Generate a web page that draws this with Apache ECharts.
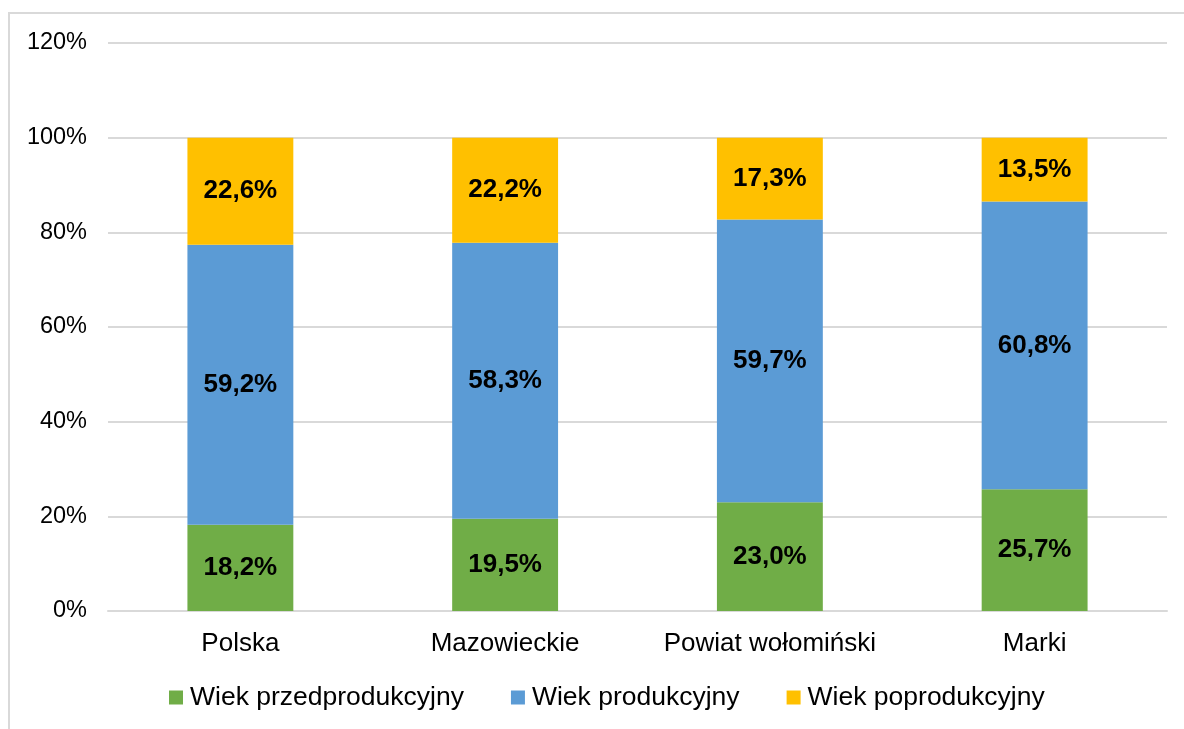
<!DOCTYPE html>
<html>
<head>
<meta charset="utf-8">
<script src="https://cdn.jsdelivr.net/npm/echarts@6/dist/echarts.min.js"></script>
<style>
html,body{margin:0;padding:0;background:#fff;overflow:hidden;}
#frame{position:absolute;left:8px;top:12px;width:1200px;height:760px;border:2px solid #d9d9d9;box-sizing:border-box;}
#chart{position:absolute;left:0;top:0;width:1184px;height:729px;}
</style>
</head>
<body>
<div id="frame"></div>
<div id="chart"></div>
<script>
const categories = ['Polska', 'Mazowieckie', 'Powiat wołomiński', 'Marki'];
const przedprodukcyjny = [18.2, 19.5, 23.0, 25.7];
const produkcyjny = [59.2, 58.3, 59.7, 60.8];
const poprodukcyjny = [22.6, 22.2, 17.3, 13.5];
const seriesNames = ['Wiek przedprodukcyjny', 'Wiek produkcyjny', 'Wiek poprodukcyjny'];
const colors = ['#70AD47', '#5B9BD5', '#FFC000'];
const yTicks = [0, 20, 40, 60, 80, 100, 120];

const font = 'Liberation Sans, Arial, sans-serif';
const chart = echarts.init(document.getElementById('chart'), null, {renderer: 'canvas'});
const fmt = v => v.toFixed(1).replace('.', ',') + '%';
const mk = (name, data, color) => ({
  name, type: 'bar', stack: 'total', data, barWidth: '40%',
  itemStyle: {color},
  label: {show: true, position: 'inside', formatter: p => fmt(p.value),
    color: '#000', fontWeight: 'bold', fontSize: 26, fontFamily: font}
});
chart.setOption({
  animation: false,
  color: colors,
  grid: {left: 108, right: 17, top: 43, bottom: 118, containLabel: false},
  legend: {
    bottom: 13, left: 164,
    itemWidth: 14, itemHeight: 14, itemGap: 47,
    icon: 'rect',
    textStyle: {fontSize: 26.5, color: '#000', fontFamily: font, padding: [0, 0, 0, 2]},
    data: seriesNames
  },
  xAxis: {
    type: 'category', data: categories,
    axisLine: {lineStyle: {color: '#d9d9d9', width: 2}},
    axisTick: {show: false},
    axisLabel: {interval: 0, fontSize: 26, color: '#000', fontFamily: font, margin: 20}
  },
  yAxis: {
    type: 'value', min: yTicks[0], max: yTicks[yTicks.length - 1], interval: 20,
    axisLine: {show: false}, axisTick: {show: false},
    splitLine: {lineStyle: {color: '#d9d9d9', width: 2}},
    axisLabel: {fontSize: 23.5, color: '#000', fontFamily: font, margin: 21,
      formatter: v => v + '%'}
  },
  series: [
    mk(seriesNames[0], przedprodukcyjny, colors[0]),
    mk(seriesNames[1], produkcyjny, colors[1]),
    mk(seriesNames[2], poprodukcyjny, colors[2])
  ]
});
</script>
</body>
</html>
